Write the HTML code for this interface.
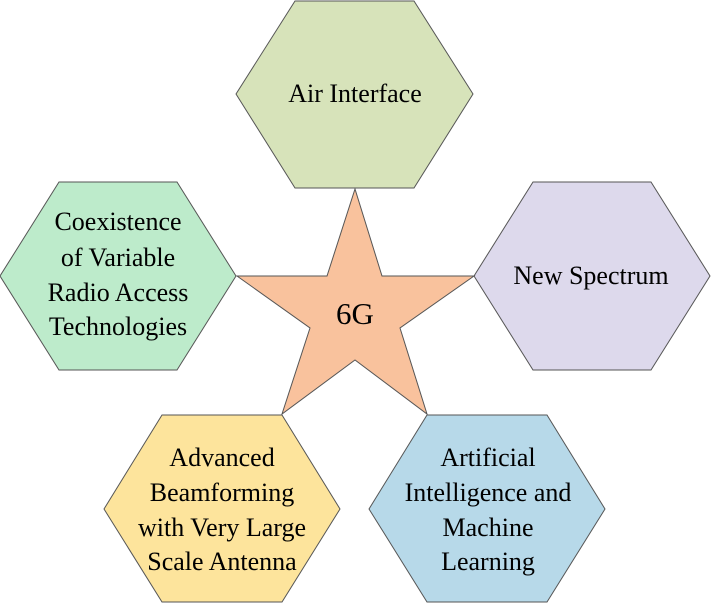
<!DOCTYPE html>
<html><head><style>body{margin:0;background:#fff}svg{display:block}</style></head>
<body>
<svg width="711" height="603" viewBox="0 0 711 603" xmlns="http://www.w3.org/2000/svg">
<g stroke="#555" stroke-width="1">
<polygon points="295,1 414,1 473,94 414,188 295,188 236,94" fill="#d7e3ba"/>
<polygon points="59,182 177,182 236,276 177,370 59,370 0,276" fill="#bdebcb"/>
<polygon points="533,182 651,182 710,276 651,370 533,370 474,276" fill="#ddd9ec"/>
<polygon points="162,415 282,415 340,509 282,602 162,602 104,509" fill="#fde49c"/>
<polygon points="427,415 547,415 605,509 547,602 427,602 369,509" fill="#b7d9e9"/>
<polygon points="355,189 382,276 474,276 400,328 427,414 355,360 282,414 310,328 237,276 327,276" fill="#f9c29d"/>
</g>
<g text-anchor="middle" font-family="'Liberation Serif', 'Times New Roman', serif" font-size="26" fill="#000" style="font-family:'Liberation Serif',serif">
<text x="355" y="102">Air Interface</text>
<text x="118" y="230">Coexistence</text>
<text x="118" y="266">of  Variable</text>
<text x="118" y="301">Radio Access</text>
<text x="118" y="335">Technologies</text>
<text x="591" y="284">New Spectrum</text>
<text x="355" y="324" font-size="31">6G</text>
<text x="222" y="466">Advanced</text>
<text x="222" y="501">Beamforming</text>
<text x="222" y="536">with Very Large</text>
<text x="222" y="570">Scale Antenna</text>
<text x="488" y="466">Artificial</text>
<text x="488" y="501">Intelligence and</text>
<text x="488" y="536">Machine</text>
<text x="488" y="570">Learning</text>
</g>
</svg>
</body></html>
